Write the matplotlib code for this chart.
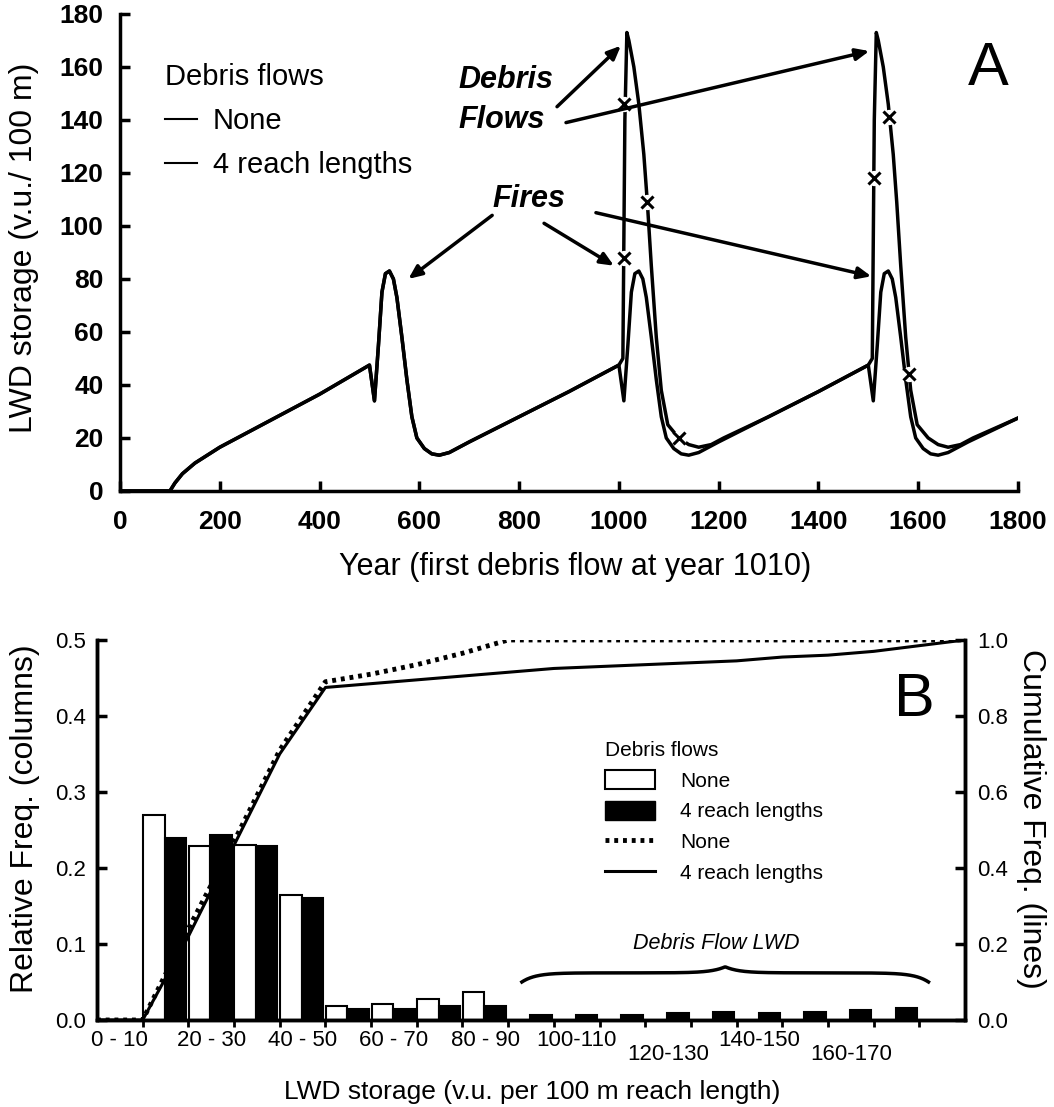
import numpy as np
import matplotlib
matplotlib.use('Agg')
import matplotlib.pyplot as plt
from matplotlib.lines import Line2D
from matplotlib.patches import Patch
from matplotlib.ticker import FormatStrFormatter

plt.rcParams['font.family'] = ['Liberation Sans', 'DejaVu Sans']

# ---- panel A : LWD storage through time ----
none_year = [0, 100, 110, 125, 150, 175, 200, 300, 400, 500, 510, 518, 525, 532, 540, 548, 555, 565,
             575, 585, 595, 610, 625, 640, 660, 700, 800, 900,
             1000, 1010, 1018, 1025, 1032, 1040, 1048, 1055, 1065, 1075, 1085, 1095, 1110, 1125, 1140,
             1160, 1200, 1300, 1400,
             1500, 1510, 1518, 1525, 1532, 1540, 1548, 1555, 1565, 1575, 1585, 1595, 1610, 1625, 1640,
             1660, 1700, 1800]
none_val = [0, 0, 3, 6.5, 10.5, 13.5, 16.5, 26.5, 36.5, 47.5, 34, 55, 75, 82, 83, 80, 73, 58,
            42, 28, 20, 16, 14, 13.5, 14.5, 18.5, 28, 37.5,
            47.5, 34, 55, 75, 82, 83, 80, 73, 58, 42, 28, 20, 16, 14, 13.5,
            14.5, 18.5, 28, 37.5,
            47.5, 34, 55, 75, 82, 83, 80, 73, 58, 42, 28, 20, 16, 14, 13.5,
            14.5, 18.5, 27.5]

four_year = [0, 100, 110, 125, 150, 175, 200, 300, 400, 500, 510, 518, 525, 532, 540, 548, 555, 565,
             575, 585, 595, 610, 625, 640, 660, 700, 800, 900,
             1000, 1008, 1012, 1016, 1020, 1030, 1040, 1050, 1057, 1065, 1075, 1085, 1098, 1120, 1140,
             1160, 1185, 1210, 1300, 1400,
             1500, 1508, 1512, 1516, 1520, 1530, 1540, 1550, 1557, 1565, 1575, 1585, 1598, 1620, 1640,
             1660, 1685, 1710, 1800]
four_val = [0, 0, 3, 6.5, 10.5, 13.5, 16.5, 26.5, 36.5, 47.5, 34, 55, 75, 82, 83, 80, 73, 58,
            42, 28, 20, 16, 14, 13.5, 14.5, 18.5, 28, 37.5,
            47.5, 50, 140, 173, 170, 160, 146, 127, 109, 85, 58, 38, 25, 20, 17.5,
            16.5, 17.5, 20, 28, 37.5,
            47.5, 50, 140, 173, 170, 160, 146, 127, 109, 85, 58, 38, 25, 20, 17.5,
            16.5, 17.5, 20, 27.5]

xmark_year = [1011, 1011, 1057, 1120, 1511, 1542, 1581]
xmark_val = [146, 88, 109, 20, 118, 141, 44]

# ---- panel B : frequency distributions ----
none_bins = [10, 20, 30, 40, 50, 60, 70, 80]
none_freq = [0.270, 0.229, 0.230, 0.164, 0.019, 0.021, 0.028, 0.037]
df_bins = [10, 20, 30, 40, 50, 60, 70, 80, 90, 100, 110, 120, 130, 140, 150, 160, 170]
df_freq = [0.240, 0.243, 0.229, 0.161, 0.015, 0.014, 0.018, 0.018,
           0.0066, 0.0066, 0.0068, 0.0097, 0.010, 0.0097, 0.010, 0.0128, 0.0155]

cum_x = [0, 10, 20, 30, 40, 50, 60, 70, 80, 90, 100, 110, 120, 130, 140, 150, 160, 170, 180, 190]
cum_none = [0, 0, 0.24, 0.47, 0.71, 0.89, 0.91, 0.935, 0.965, 1.0, 1.0, 1.0, 1.0, 1.0, 1.0, 1.0,
            1.0, 1.0, 1.0, 1.0]
cum_df = [0, 0, 0.22, 0.46, 0.70, 0.875, 0.885, 0.895, 0.905, 0.915, 0.925, 0.93, 0.935, 0.94,
          0.945, 0.955, 0.96, 0.97, 0.985, 1.0]

bin_labels = ['0 - 10', '20 - 30', '40 - 50', '60 - 70', '80 - 90', '100-110', '120-130',
              '140-150', '160-170']
label_pos = [5, 25, 45, 65, 85, 105, 125, 145, 165]

fig = plt.figure(figsize=(10.54, 11.07), dpi=100)
axA = fig.add_axes([0.1139, 0.5565, 0.8519, 0.4309])
axB = fig.add_axes([0.092, 0.0786, 0.8236, 0.3433])

# panel A
axA.plot(none_year, none_val, color='k', lw=2.5, zorder=2)
axA.plot(four_year, four_val, color='k', lw=2.5, zorder=2)
axA.plot(xmark_year, xmark_val, ls='none', marker='o', ms=11, mfc='white', mec='none', zorder=3)
axA.plot(xmark_year, xmark_val, ls='none', marker='x', ms=8, mew=2.2, color='k', zorder=4)

axA.set_xlim(0, 1800)
axA.set_ylim(0, 180)
axA.set_xticks(range(0, 1801, 200))
axA.set_yticks(range(0, 181, 20))
for s in ['top', 'right']:
    axA.spines[s].set_visible(False)
for s in ['left', 'bottom']:
    axA.spines[s].set_linewidth(2.5)
axA.tick_params(direction='in', length=7, width=2.5, labelsize=19)
axA.tick_params(axis='x', pad=14)
axA.tick_params(axis='y', pad=12)
for lab in axA.get_xticklabels() + axA.get_yticklabels():
    lab.set_fontweight('bold')
axA.set_ylabel('LWD storage (v.u./ 100 m)', fontsize=23)
axA.yaxis.set_label_coords(-0.09, 0.51)
axA.set_xlabel('Year (first debris flow at year 1010)', fontsize=22)
axA.xaxis.set_label_coords(0.507, -0.128)

handles = [Line2D([], [], color='k', lw=1.5), Line2D([], [], color='k', lw=1.5)]
axA.legend(handles, ['None', '4 reach lengths'], title='Debris flows', loc='upper left',
           bbox_to_anchor=(0.05, 0.897), frameon=False, fontsize=21, title_fontsize=21,
           handlelength=1.1, handletextpad=0.55, labelspacing=0.55, alignment='left',
           borderpad=0, borderaxespad=0)

ann = dict(fontsize=22, fontweight='bold', style='italic', va='center', ha='left')
axA.text(678, 155, 'Debris', **ann)
axA.text(678, 140, 'Flows', **ann)
axA.text(746, 110, 'Fires', **ann)
arrow_kw = dict(arrowstyle='-|>,head_length=0.8,head_width=0.35', color='k', lw=2.5,
                shrinkA=0, shrinkB=0)
axA.annotate('', xy=(1004, 168), xytext=(876, 145), arrowprops=arrow_kw)
axA.annotate('', xy=(1502, 166), xytext=(894, 139), arrowprops=arrow_kw)
axA.annotate('', xy=(578, 80), xytext=(746, 104), arrowprops=arrow_kw)
axA.annotate('', xy=(990, 85), xytext=(850, 101), arrowprops=arrow_kw)
axA.annotate('', xy=(1506, 81), xytext=(954, 105), arrowprops=arrow_kw)
axA.text(1740, 159, 'A', fontsize=44, ha='center', va='center')

# panel B
axB.bar(np.array(none_bins) + 0.1, none_freq, width=4.7, align='edge', color='white',
        edgecolor='k', lw=1.5, zorder=2)
axB.bar(np.array(df_bins) + 4.8, df_freq, width=4.7, align='edge', color='k',
        edgecolor='k', lw=1.5, zorder=2)
axB.set_xlim(0, 190)
axB.set_ylim(0, 0.5)
axC = axB.twinx()
axC.set_ylim(0, 1.0)
axC.plot(cum_x, cum_none, color='k', lw=3.5, ls=(0, (0.8, 1.0)))
axC.plot(cum_x, cum_df, color='k', lw=2.2)

for a in [axB, axC]:
    a.spines['top'].set_visible(False)
    for s in ['left', 'right', 'bottom']:
        a.spines[s].set_linewidth(2.5)

axB.set_yticks(np.arange(0, 0.51, 0.1))
axB.yaxis.set_major_formatter(FormatStrFormatter('%.1f'))
axB.tick_params(axis='y', direction='in', length=7, width=2.5, labelsize=16, pad=8)
axC.set_yticks(np.arange(0, 1.01, 0.2))
axC.yaxis.set_major_formatter(FormatStrFormatter('%.1f'))
axC.tick_params(axis='y', direction='in', length=7, width=2.5, labelsize=16, pad=9)

axB.set_xticks(range(10, 181, 10))
axB.set_xticks(label_pos, minor=True)
axB.set_xticklabels(bin_labels, minor=True)
axB.tick_params(axis='x', which='major', direction='out', length=5, width=2, labelbottom=False)
axB.tick_params(axis='x', which='minor', length=0, labelsize=16, pad=7)
minor_ticks = axB.xaxis.get_minor_ticks()
for i in [6, 8]:
    minor_ticks[i].set_pad(17)

axB.set_ylabel('Relative Freq. (columns)', fontsize=23)
axB.yaxis.set_label_coords(-0.066, 0.53)
axC.set_ylabel('Cumulative Freq. (lines)', fontsize=23, rotation=270)
axC.yaxis.set_label_coords(1.093, 0.53)
axB.set_xlabel('LWD storage (v.u. per 100 m reach length)', fontsize=19)
axB.xaxis.set_label_coords(0.501, -0.158)

bh = [Patch(facecolor='white', edgecolor='k', lw=1.5), Patch(facecolor='k', edgecolor='k'),
      Line2D([], [], color='k', lw=3.5, ls=(0, (0.8, 1.0))), Line2D([], [], color='k', lw=2.2)]
axB.legend(bh, ['None', '4 reach lengths', 'None', '4 reach lengths'], title='Debris flows',
           loc='upper left', bbox_to_anchor=(0.585, 0.735), frameon=False, fontsize=15,
           title_fontsize=15, handlelength=2.4, handleheight=1.0, handletextpad=1.2,
           labelspacing=0.5, alignment='left', borderpad=0, borderaxespad=0)

# brace over debris-flow bins
bx = np.linspace(93, 182, 400)
by = (0.062 - 0.012 * np.exp(-(bx - 93) / 3) - 0.012 * np.exp(-(182 - bx) / 3)
      + 0.008 * np.exp(-np.abs(bx - 137.5) / 3))
axB.plot(bx, by, color='k', lw=2.5)
axB.text(135.5, 0.101, 'Debris Flow LWD', fontsize=15.5, style='italic', ha='center', va='center')
axB.text(178.9, 0.42, 'B', fontsize=44, ha='center', va='center')

fig.savefig('out.png', dpi=100)
